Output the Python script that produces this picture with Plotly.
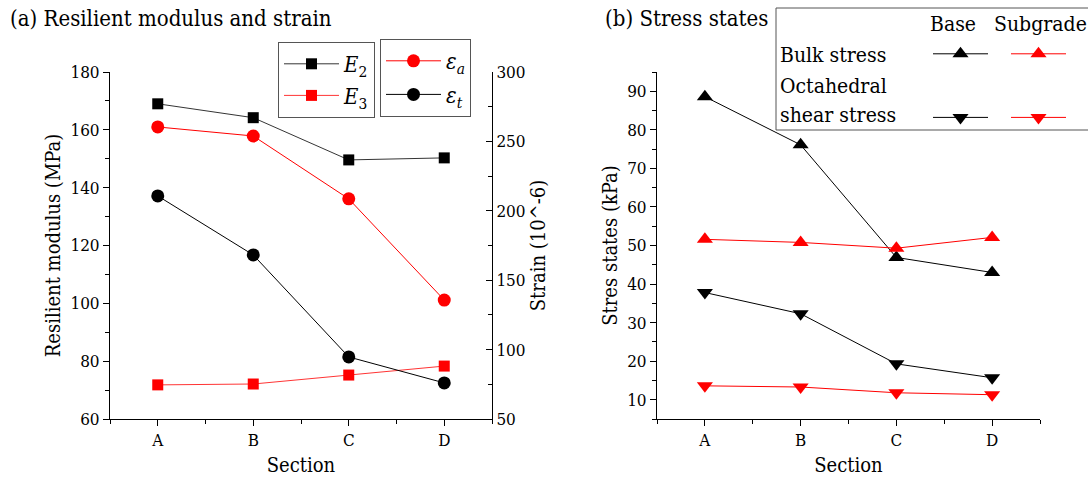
import plotly.graph_objects as go

# Sections along the road
sections = ["A", "B", "C", "D"]

# (a) Resilient modulus (MPa)
e2_modulus = [169.0, 164.2, 149.6, 150.3]
e3_modulus = [71.8, 72.1, 75.2, 78.3]

# (a) Strain (10^-6)
strain_a = [260.4, 253.9, 208.6, 135.7]
strain_t = [210.7, 168.2, 94.7, 76.0]

# (b) Stress states (kPa)
bulk_base = [88.6, 76.1, 46.9, 43.0]
bulk_subgrade = [51.6, 50.8, 49.3, 52.1]
oct_base = [37.8, 32.3, 19.3, 15.7]
oct_subgrade = [13.6, 13.3, 11.8, 11.3]

idx = list(range(len(sections)))
FONT = "DejaVu Serif Condensed, DejaVu Serif"
RED = "#ff0000"
BLACK = "#000000"

W, H = 1088, 479


def px_x(p):
    return p / W


def px_y(p):
    return 1 - p / H


fig = go.Figure()


def add_line(x, y, color, symbol, size, xaxis, yaxis, legend, name, group, lw=1):
    fig.add_trace(go.Scatter(
        x=x, y=y, mode="lines+markers", name=name,
        line=dict(color=color, width=lw),
        marker=dict(color=color, symbol=symbol, size=size, line=dict(width=0)),
        xaxis=xaxis, yaxis=yaxis, legend=legend, legendgroup=group,
    ))


# panel (a)
add_line(idx, e2_modulus, BLACK, "square", 11, "x", "y", "legend", "<i>E</i><sub>2</sub>", "e2", 0.8)
add_line(idx, e3_modulus, RED, "square", 11, "x", "y", "legend", "<i>E</i><sub>3</sub>", "e3", 0.8)
add_line(idx, strain_a, RED, "circle", 13, "x", "y3", "legend2", "<i>ε</i><sub><i>a</i></sub>", "ea")
add_line(idx, strain_t, BLACK, "circle", 13, "x", "y3", "legend2", "<i>ε</i><sub><i>t</i></sub>", "et")

# panel (b)
add_line(idx, bulk_base, BLACK, "triangle-up", 14, "x2", "y2", "legend3", " ", "bb")
add_line(idx, oct_base, BLACK, "triangle-down", 14, "x2", "y2", "legend3", " ", "ob")
add_line(idx, bulk_subgrade, RED, "triangle-up", 14, "x2", "y2", "legend4", " ", "bs")
add_line(idx, oct_subgrade, RED, "triangle-down", 14, "x2", "y2", "legend4", " ", "os")

tickfont = dict(family=FONT, size=17, color="black")
titlefont = dict(family=FONT, size=20, color="black")

common_x = dict(
    range=[-0.5, 3.5], tickmode="array", tickvals=idx, ticktext=sections,
    ticks="outside", ticklen=6, tickcolor="black", tickwidth=1,
    minor=dict(tickmode="linear", tick0=-0.5, dtick=1, ticks="outside", ticklen=4,
               tickcolor="black", tickwidth=1),
    showline=True, linecolor="black", linewidth=1, showgrid=False, zeroline=False,
    automargin=False,
    tickfont=tickfont, title=dict(text="Section", font=titlefont, standoff=8),
)
common_y = dict(
    ticks="outside", ticklen=6, tickcolor="black", tickwidth=1,
    showline=True, linecolor="black", linewidth=1, showgrid=False, zeroline=False,
    automargin=False, tickfont=tickfont,
)

ydom = [px_y(419), px_y(72)]

legend_common = dict(xanchor="left", yanchor="top", font=dict(family=FONT, size=22, color="black"),
                     itemwidth=55, traceorder="grouped")

fig.update_layout(
    width=W, height=H,
    margin=dict(l=0, r=0, t=0, b=0, autoexpand=False),
    paper_bgcolor="white", plot_bgcolor="white",
    font=dict(family=FONT, color="black"),
    xaxis=dict(domain=[px_x(110), px_x(492)], anchor="y", **common_x),
    yaxis=dict(domain=ydom, anchor="x", range=[60, 180], tickmode="linear", tick0=60, dtick=20,
               minor=dict(tickmode="linear", tick0=60, dtick=10, ticks="outside", ticklen=4,
                          tickcolor="black", tickwidth=1),
               title=dict(text="Resilient modulus (MPa)", font=titlefont, standoff=4),
               **common_y),
    yaxis3=dict(overlaying="y", side="right", anchor="x", range=[50, 300], tickmode="linear",
                tick0=50, dtick=50,
                minor=dict(tickmode="linear", tick0=50, dtick=25, ticks="inside", ticklen=4,
                           tickcolor="black", tickwidth=1),
                title=dict(text="Strain (10^-6)", font=titlefont, standoff=4),
                **{**common_y, "ticks": "inside"}),
    xaxis2=dict(domain=[px_x(657), px_x(1040)], anchor="y2", **common_x),
    yaxis2=dict(domain=ydom, anchor="x2", range=[5, 95], tickmode="linear", tick0=10, dtick=10,
                minor=dict(tickmode="linear", tick0=5, dtick=5, ticks="outside", ticklen=4,
                           tickcolor="black", tickwidth=1),
                title=dict(text="Stres states (kPa)", font=titlefont, standoff=4),
                **common_y),
    legend=dict(x=px_x(278), y=px_y(42), bordercolor="#555555", borderwidth=1, bgcolor="white",
                tracegroupgap=0, **legend_common),
    legend2=dict(x=px_x(380), y=px_y(39), bordercolor="#555555", borderwidth=1, bgcolor="white",
                 tracegroupgap=2, **legend_common),
    legend3=dict(x=px_x(928), y=px_y(33), borderwidth=0, bgcolor="rgba(0,0,0,0)",
                 tracegroupgap=32, **legend_common),
    legend4=dict(x=px_x(1006), y=px_y(33), borderwidth=0, bgcolor="rgba(0,0,0,0)",
                 tracegroupgap=32, **legend_common),
)

# frame around the stress-state key
fig.add_shape(type="rect", xref="paper", yref="paper",
              x0=px_x(776), x1=px_x(1100), y0=px_y(130), y1=px_y(8),
              line=dict(color="#555555", width=1), fillcolor="rgba(0,0,0,0)", layer="below")

texts = [
    ("(a) Resilient modulus and strain", 8, 18, "left", 22),
    ("(b) Stress states", 603, 18, "left", 22),
    ("Base", 953, 24, "center", 21),
    ("Subgrade", 1040, 24, "center", 21),
    ("Bulk stress", 778, 55, "left", 21),
    ("Octahedral", 778, 86, "left", 21),
    ("shear stress", 778, 115, "left", 21),
]
for t, x, y, anchor, size in texts:
    fig.add_annotation(text=t, xref="paper", yref="paper", x=px_x(x), y=px_y(y),
                       xanchor=anchor, yanchor="middle", showarrow=False,
                       font=dict(family=FONT, size=size, color="black"))

fig.write_html("out.html")
